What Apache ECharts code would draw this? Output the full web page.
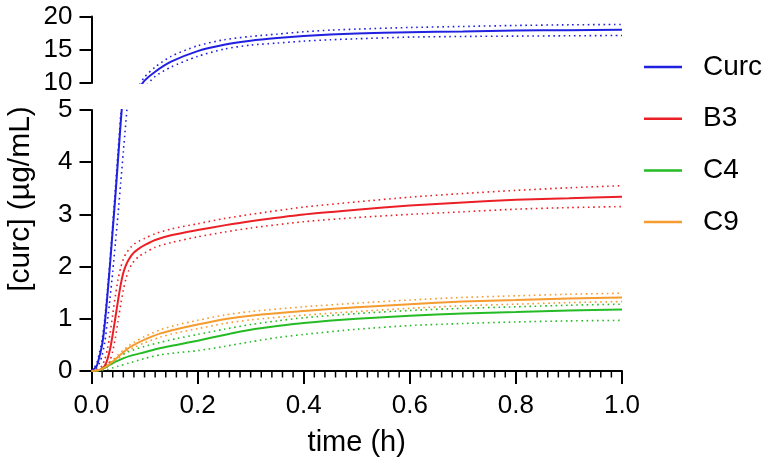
<!DOCTYPE html>
<html>
<head>
<meta charset="utf-8">
<script src="https://cdn.jsdelivr.net/npm/echarts@6/dist/echarts.min.js"></script>
<style>
html,body{margin:0;padding:0;background:#fff;}
#chart{width:770px;height:471px;}
</style>
</head>
<body>
<div id="chart"></div>
<script>
// ---- Data ----
const seriesNames = ['Curc', 'B3', 'C4', 'C9'];
const yTitle = '[curc] (\u00b5g/mL)';
const xTitle = 'time (h)';
const xMinorTicks = [0.02, 0.04, 0.06, 0.08, 0.1, 0.12, 0.14, 0.16, 0.18,
                     0.22, 0.24, 0.26, 0.28, 0.3, 0.32, 0.34, 0.36, 0.38,
                     0.42, 0.44, 0.46, 0.48, 0.5, 0.52, 0.54, 0.56, 0.58,
                     0.62, 0.64, 0.66, 0.68, 0.7, 0.72, 0.74, 0.76, 0.78,
                     0.82, 0.84, 0.86, 0.88, 0.9, 0.92, 0.94, 0.96, 0.98];

const curcTime  = [0, 0.005, 0.01, 0.015, 0.02, 0.025, 0.03, 0.035, 0.04, 0.045, 0.05, 0.055, 0.06, 0.07, 0.08, 0.09, 0.1, 0.12, 0.15, 0.2, 0.25, 0.3, 0.35, 0.4, 0.45, 0.5, 0.6, 0.7, 0.8, 0.9, 1.0];
const curcMean  = [0, 0.04, 0.1, 0.28, 0.5, 0.9, 1.45, 2.05, 2.7, 3.35, 4.05, 4.75, 5.4, 6.7, 8.0, 9.2, 10.35, 11.7, 13.2, 14.8, 15.75, 16.35, 16.75, 17.05, 17.3, 17.45, 17.65, 17.75, 17.88, 17.95, 18.0];
const curcUpper = [0, 0.06, 0.15, 0.35, 0.6, 1.0, 1.55, 2.15, 2.8, 3.5, 4.2, 4.9, 5.6, 7.0, 8.4, 9.7, 10.9, 12.4, 14.0, 15.6, 16.5, 17.0, 17.35, 17.7, 17.95, 18.1, 18.35, 18.5, 18.65, 18.75, 18.8];
const curcLower = [0, 0.02, 0.06, 0.15, 0.3, 0.55, 0.95, 1.4, 1.9, 2.45, 3.0, 3.6, 4.2, 5.4, 6.7, 8.0, 9.3, 11.0, 12.4, 14.0, 15.1, 15.7, 16.0, 16.3, 16.5, 16.65, 16.9, 17.0, 17.05, 17.1, 17.15];

const b3Time  = [0, 0.01, 0.015, 0.02, 0.025, 0.03, 0.035, 0.04, 0.045, 0.05, 0.055, 0.06, 0.065, 0.07, 0.075, 0.08, 0.09, 0.1, 0.12, 0.15, 0.2, 0.25, 0.3, 0.4, 0.5, 0.6, 0.7, 0.8, 0.9, 1.0];
const b3Mean  = [0, 0.01, 0.02, 0.04, 0.1, 0.22, 0.42, 0.7, 1.02, 1.35, 1.65, 1.88, 2.03, 2.13, 2.21, 2.27, 2.35, 2.41, 2.51, 2.6, 2.7, 2.79, 2.87, 3.0, 3.09, 3.17, 3.23, 3.28, 3.31, 3.34];
const b3Upper = [0, 0.02, 0.04, 0.1, 0.22, 0.42, 0.72, 1.08, 1.44, 1.75, 1.98, 2.14, 2.25, 2.32, 2.38, 2.43, 2.49, 2.54, 2.63, 2.72, 2.82, 2.92, 3.0, 3.14, 3.24, 3.33, 3.4, 3.46, 3.51, 3.55];
const b3Lower = [0, 0.0, 0.01, 0.02, 0.04, 0.09, 0.2, 0.38, 0.64, 0.95, 1.27, 1.55, 1.77, 1.92, 2.03, 2.1, 2.2, 2.26, 2.37, 2.46, 2.57, 2.66, 2.74, 2.86, 2.94, 3.0, 3.05, 3.1, 3.13, 3.15];

const c4Time  = [0, 0.01, 0.02, 0.03, 0.04, 0.05, 0.07, 0.1, 0.13, 0.16, 0.2, 0.25, 0.3, 0.35, 0.4, 0.5, 0.6, 0.7, 0.8, 0.9, 1.0];
const c4Mean  = [0, 0.0, 0.04, 0.09, 0.15, 0.2, 0.28, 0.36, 0.44, 0.5, 0.58, 0.69, 0.79, 0.86, 0.92, 1.0, 1.06, 1.1, 1.13, 1.16, 1.18];
const c4Upper = [0, 0.01, 0.06, 0.13, 0.2, 0.27, 0.37, 0.47, 0.55, 0.62, 0.7, 0.8, 0.89, 0.96, 1.02, 1.1, 1.16, 1.2, 1.23, 1.26, 1.28];
const c4Lower = [0, 0.0, 0.01, 0.03, 0.06, 0.09, 0.15, 0.24, 0.31, 0.35, 0.39, 0.47, 0.56, 0.64, 0.7, 0.8, 0.87, 0.91, 0.94, 0.96, 0.97];

const c9Time  = [0, 0.01, 0.02, 0.03, 0.04, 0.05, 0.06, 0.07, 0.08, 0.1, 0.13, 0.16, 0.2, 0.25, 0.3, 0.4, 0.5, 0.6, 0.7, 0.8, 0.9, 1.0];
const c9Mean  = [0, 0.01, 0.04, 0.1, 0.18, 0.27, 0.36, 0.44, 0.5, 0.6, 0.72, 0.8, 0.89, 0.99, 1.06, 1.15, 1.22, 1.28, 1.33, 1.36, 1.39, 1.41];
const c9Upper = [0, 0.01, 0.05, 0.12, 0.21, 0.31, 0.4, 0.48, 0.55, 0.66, 0.79, 0.88, 0.97, 1.07, 1.14, 1.23, 1.3, 1.36, 1.41, 1.44, 1.47, 1.49];
const c9Lower = [0, 0.01, 0.03, 0.08, 0.15, 0.23, 0.32, 0.4, 0.45, 0.54, 0.65, 0.73, 0.81, 0.91, 0.98, 1.07, 1.14, 1.2, 1.25, 1.28, 1.31, 1.33];

// ---- Styling ----
const colors = { Curc: '#2020e0', B3: '#ea2026', C4: '#25bb25', C9: '#f59b2f' };
const FONT = 'Liberation Sans, Arial, Helvetica, sans-serif';

function pairs(t, v) { return t.map((x, i) => [x, v[i]]); }

function mk(name, key, t, v, dotted, gridIdx) {
  return {
    name: name,
    type: 'line',
    xAxisIndex: gridIdx,
    yAxisIndex: gridIdx,
    data: pairs(t, v),
    symbol: 'none',
    smooth: 0.25,
    clip: true,
    silent: true,
    z: dotted ? 2 : 3,
    lineStyle: dotted
      ? { color: colors[key], width: 1.6, type: [1.6, 3.6], cap: 'butt' }
      : { color: colors[key], width: 2 },
    itemStyle: { color: colors[key] },
    emphasis: { disabled: true }
  };
}

const groups = [
  ['Curc', curcTime, curcMean, curcUpper, curcLower],
  ['B3', b3Time, b3Mean, b3Upper, b3Lower],
  ['C4', c4Time, c4Mean, c4Upper, c4Lower],
  ['C9', c9Time, c9Mean, c9Upper, c9Lower]
];

const series = [];
groups.forEach(g => {
  const [key, t, m, u, l] = g;
  series.push(mk(key, key, t, m, false, 1));
  series.push(mk(key + ' upper', key, t, u, true, 1));
  series.push(mk(key + ' lower', key, t, l, true, 1));
});
// Curc continues into the upper (broken-axis) panel
series.push(mk('Curc', 'Curc', curcTime, curcMean, false, 0));
series.push(mk('Curc upper', 'Curc', curcTime, curcUpper, true, 0));
series.push(mk('Curc lower', 'Curc', curcTime, curcLower, true, 0));

// minor x-axis ticks, placed through the axis scale
series.push({
  name: 'minor ticks',
  type: 'custom',
  xAxisIndex: 1,
  yAxisIndex: 1,
  clip: false,
  silent: true,
  z: 5,
  data: xMinorTicks.map(v => [v, 0]),
  encode: { x: 0, y: 1 },
  renderItem: function (params, api) {
    const p = api.coord([api.value(0), 0]);
    return {
      type: 'line',
      shape: { x1: p[0], y1: p[1], x2: p[0], y2: p[1] + 6.5 },
      style: { stroke: '#000', lineWidth: 1.5 }
    };
  }
});

const axisLineStyle = { color: '#000', width: 2 };
const labelStyle = { color: '#000', fontSize: 26, fontFamily: FONT };

const chart = echarts.init(document.getElementById('chart'), null, { renderer: 'canvas' });
chart.setOption({
  backgroundColor: '#fff',
  animation: false,
  grid: [
    { left: 91.5, right: 148, top: 16.5, height: 66.5, containLabel: false },
    { left: 91.5, right: 148, top: 110, bottom: 100, containLabel: false }
  ],
  xAxis: [
    { gridIndex: 0, type: 'value', min: 0, max: 1, show: false },
    {
      gridIndex: 1, type: 'value', min: 0, max: 1, interval: 0.2,
      name: xTitle, nameLocation: 'middle', nameGap: 57,
      nameTextStyle: { color: '#000', fontSize: 29, fontFamily: FONT },
      axisLine: { show: true, onZero: false, lineStyle: axisLineStyle },
      axisTick: { show: true, length: 13, lineStyle: { color: '#000', width: 2 } },
      axisLabel: Object.assign({ margin: 22, formatter: v => v.toFixed(1) }, labelStyle),
      splitLine: { show: false }
    }
  ],
  yAxis: [
    {
      gridIndex: 0, type: 'value', min: 10, max: 20, interval: 5,
      axisLine: { show: true, onZero: false, lineStyle: axisLineStyle },
      axisTick: { show: true, length: 12, lineStyle: { color: '#000', width: 2 } },
      axisLabel: Object.assign({ margin: 19 }, labelStyle),
      splitLine: { show: false }
    },
    {
      gridIndex: 1, type: 'value', min: 0, max: 5, interval: 1,
      axisLine: { show: true, onZero: false, lineStyle: axisLineStyle },
      axisTick: { show: true, length: 12, lineStyle: { color: '#000', width: 2 } },
      axisLabel: Object.assign({ margin: 19 }, labelStyle),
      splitLine: { show: false }
    }
  ],
  legend: {
    data: seriesNames.map(n => ({ name: n, icon: 'rect' })),
    orient: 'vertical',
    left: 644,
    top: 53,
    padding: 0,
    itemWidth: 38,
    itemHeight: 2.5,
    itemGap: 23.7,
    selectedMode: false,
    textStyle: { color: '#000', fontSize: 28, fontFamily: FONT, lineHeight: 28, padding: [0, 0, 0, 16] }
  },
  graphic: [
    {
      type: 'text',
      x: 21, y: 199,
      rotation: Math.PI / 2,
      style: {
        text: yTitle, fill: '#000', fontSize: 30, fontFamily: FONT,
        align: 'center', verticalAlign: 'middle'
      }
    }
  ],
  series: series
});
</script>
</body>
</html>
